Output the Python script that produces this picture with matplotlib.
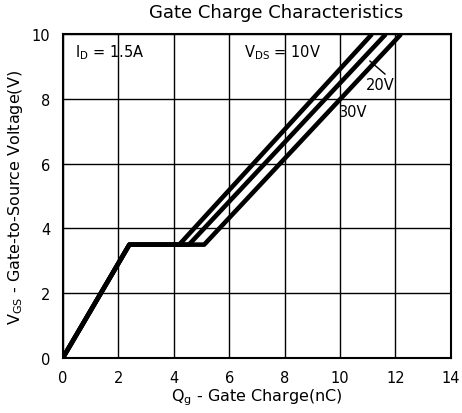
import matplotlib
matplotlib.use("Agg")
import matplotlib.pyplot as plt

# Gate charge curves for three drain-source voltages (Qg in nC, Vgs in V)
qg_10v = [0, 2.4, 4.2, 11.15]
vgs_10v = [0, 3.5, 3.5, 10]
qg_20v = [0, 2.4, 4.55, 11.65]
vgs_20v = [0, 3.5, 3.5, 10]
qg_30v = [0, 2.4, 5.1, 12.2]
vgs_30v = [0, 3.5, 3.5, 10]

x_ticks = [0, 2, 4, 6, 8, 10, 12, 14]
y_ticks = [0, 2, 4, 6, 8, 10]

plt.rcParams['font.family'] = ['DejaVu Sans']

fig = plt.figure(figsize=(4.62, 4.14), dpi=100)
ax = fig.add_axes([0.136, 0.133, 0.840, 0.782])

for q, v in [(qg_10v, vgs_10v), (qg_20v, vgs_20v), (qg_30v, vgs_30v)]:
    ax.plot(q, v, color='black', lw=3.3, solid_capstyle='butt', zorder=3)

ax.set_xlim(0, 14)
ax.set_ylim(0, 10)
ax.set_xticks(x_ticks)
ax.set_yticks(y_ticks)
ax.tick_params(length=0, labelsize=10.5, pad=9)
ax.grid(True, color='black', lw=1)
for s in ax.spines.values():
    s.set_linewidth(1.5)

ax.text(0.45, 9.45, r'I$_\mathrm{D}$ = 1.5A', fontsize=10.5, va='center')
ax.text(6.55, 9.45, r'V$_\mathrm{DS}$ = 10V', fontsize=10.5, va='center')
ax.text(10.95, 8.45, '20V', fontsize=10.5, va='center')
ax.text(9.95, 7.6, '30V', fontsize=10.5, va='center')
ax.plot([11.08, 11.62], [9.17, 8.77], color='black', lw=1, zorder=4)

ax.set_xlabel(r'Q$_\mathrm{g}$ - Gate Charge(nC)', fontsize=11.5, labelpad=1)
ax.set_ylabel(r'V$_\mathrm{GS}$ - Gate-to-Source Voltage(V)', fontsize=11.5, labelpad=5)
fig.text(0.597, 0.968, 'Gate Charge Characteristics', fontsize=13, ha='center', va='center')

fig.savefig('out.png', dpi=100)
